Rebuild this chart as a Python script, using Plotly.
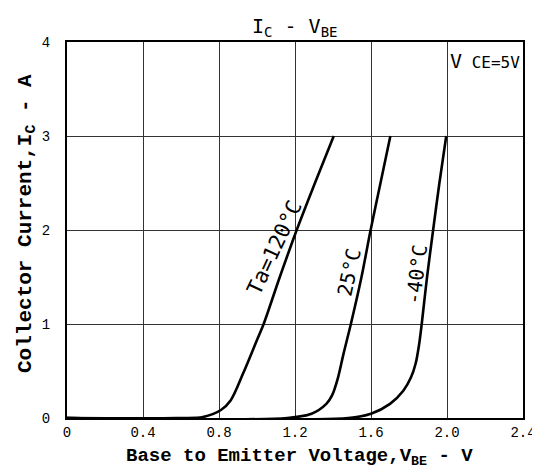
import plotly.graph_objects as go

# Data (VBE in V, IC in A)
vbe_120 = [0.0, 0.58, 0.715, 0.81, 0.862, 0.926, 1.0, 1.035, 1.12, 1.209, 1.305, 1.404]
ic_120 = [0.0, 0.0, 0.01, 0.085, 0.19, 0.47, 0.83, 1.0, 1.5, 2.0, 2.5, 3.0]

vbe_25 = [0.0, 1.16, 1.287, 1.365, 1.395, 1.425, 1.455, 1.494, 1.55, 1.598, 1.65, 1.702]
ic_25 = [0.0, 0.0, 0.045, 0.15, 0.24, 0.42, 0.68, 1.0, 1.5, 2.0, 2.5, 3.0]

vbe_m40 = [0.0, 1.48, 1.6, 1.70, 1.77, 1.81, 1.835, 1.853, 1.867, 1.895, 1.927, 1.96, 1.996]
ic_m40 = [0.0, 0.0, 0.045, 0.15, 0.29, 0.43, 0.58, 0.78, 1.0, 1.5, 2.0, 2.5, 3.0]

x_ticks = [0, 0.4, 0.8, 1.2, 1.6, 2.0, 2.4]
x_tick_labels = ["0", "0.4", "0.8", "1.2", "1.6", "2.0", "2.4"]
y_ticks = [0, 1, 2, 3, 4]
y_tick_labels = ["0", "1", "2", "3", "4"]

labels = [
    ("Ta=120°C", 1.091, 1.81, -65, 21),
    ("25°C", 1.486, 1.553, -78, 20),
    ("-40°C", 1.84, 1.52, -83, 20),
]

MONO = "Liberation Mono, DejaVu Sans Mono, monospace"
SANS = "DejaVu Sans Mono, Liberation Mono, monospace"

fig = go.Figure()
for xs, ys in [(vbe_120, ic_120), (vbe_25, ic_25), (vbe_m40, ic_m40)]:
    fig.add_trace(go.Scatter(
        x=xs, y=ys, mode="lines",
        line=dict(color="black", width=2.6, shape="spline", smoothing=0.9),
        showlegend=False, hoverinfo="skip",
    ))

annotations = []
for txt, x, y, ang, size in labels:
    annotations.append(dict(
        x=x, y=y, xref="x", yref="y", text=txt, showarrow=False,
        textangle=ang, font=dict(family=SANS, size=size, color="black"),
        xanchor="center", yanchor="middle", bgcolor="rgba(0,0,0,0)",
    ))

# Title
annotations.append(dict(
    x=1.2, y=1, xref="x", yref="paper",
    text="I<sub>C</sub> - V<sub>BE</sub>", showarrow=False,
    font=dict(family=SANS, size=20, color="black"),
    xanchor="center", yanchor="bottom", yshift=0,
))
# VCE condition
annotations.append(dict(
    x=1, y=1, xref="paper", yref="paper",
    text="V<span style='font-size:16px'> CE=5V</span>", showarrow=False,
    font=dict(family=SANS, size=20, color="black"),
    xanchor="right", yanchor="top", xshift=-1, yshift=-5,
))
# Axis titles
annotations.append(dict(
    x=0.509, y=0, xref="paper", yref="paper",
    text="<b>Base to Emitter Voltage,V<sub>BE</sub> - V</b>", showarrow=False,
    font=dict(family=MONO, size=19, color="black"),
    xanchor="center", yanchor="top", yshift=-25,
))
annotations.append(dict(
    x=0, y=0.516, xref="paper", yref="paper",
    text="<b>Collector Current,I<sub>C</sub> - A</b>", showarrow=False,
    textangle=-90,
    font=dict(family=MONO, size=21, color="black"),
    xanchor="center", yanchor="middle", xshift=-40,
))

fig.update_layout(
    width=540, height=472,
    margin=dict(l=59, r=19, t=34, b=62),
    paper_bgcolor="white", plot_bgcolor="white",
    annotations=annotations,
    showlegend=False,
)
fig.update_xaxes(
    range=[0, 2.4], tickvals=x_ticks, ticktext=x_tick_labels,
    showgrid=True, gridcolor="#333333", gridwidth=1,
    showline=True, linecolor="black", linewidth=2, mirror=True,
    ticks="", ticklabelstandoff=0, zeroline=False,
    tickfont=dict(family=MONO, size=14, color="black"),
)
fig.update_yaxes(
    range=[0, 4], tickvals=y_ticks, ticktext=y_tick_labels,
    showgrid=True, gridcolor="#333333", gridwidth=1,
    showline=True, linecolor="black", linewidth=2, mirror=True,
    ticks="", ticklabelstandoff=12, zeroline=False,
    tickfont=dict(family=MONO, size=14, color="black"),
)

fig.write_html("out.html")
